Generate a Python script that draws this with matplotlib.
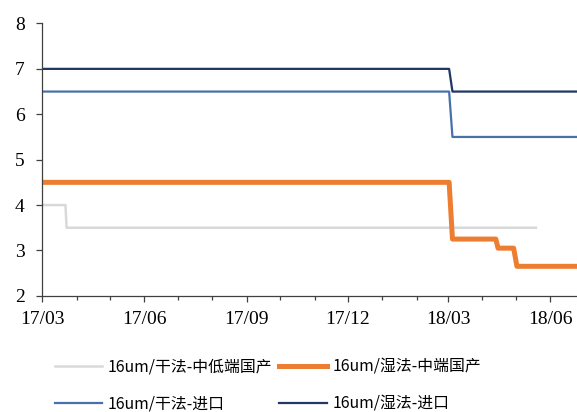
import numpy as np
import pandas as pd
import matplotlib
matplotlib.use("Agg")
import matplotlib.pyplot as plt
import matplotlib.dates as mdates

# series data (price)
dry_low_dates = ["2017-03-01", "2017-03-22", "2017-03-23", "2018-05-19"]
dry_low_vals = [4.0, 4.0, 3.5, 3.5]

wet_mid_dates = ["2017-03-01", "2018-03-02", "2018-03-05", "2018-04-13",
                 "2018-04-15", "2018-04-29", "2018-05-02", "2018-06-30"]
wet_mid_vals = [4.5, 4.5, 3.25, 3.25, 3.05, 3.05, 2.65, 2.65]

dry_imp_dates = ["2017-03-01", "2018-03-02", "2018-03-05", "2018-06-30"]
dry_imp_vals = [6.5, 6.5, 5.5, 5.5]

wet_imp_dates = ["2017-03-01", "2018-03-02", "2018-03-05", "2018-06-30"]
wet_imp_vals = [7.0, 7.0, 6.5, 6.5]

labels = ["16um/干法-中低端国产", "16um/湿法-中端国产", "16um/干法-进口", "16um/湿法-进口"]

fig = plt.figure(figsize=(5.77, 4.12), dpi=100)
ax = fig.add_axes([0.073, 0.282, 0.927, 0.661])

l1, = ax.plot(pd.to_datetime(dry_low_dates), dry_low_vals, color="#d9d9d9", lw=1.8)
l2, = ax.plot(pd.to_datetime(wet_mid_dates), wet_mid_vals, color="#ed7d31", lw=3.6)
l3, = ax.plot(pd.to_datetime(dry_imp_dates), dry_imp_vals, color="#4672a8", lw=1.6)
l4, = ax.plot(pd.to_datetime(wet_imp_dates), wet_imp_vals, color="#1f3864", lw=1.6)

ax.set_xlim(pd.Timestamp("2017-03-01"), pd.Timestamp("2018-06-25"))
ax.set_ylim(2, 8)
ax.set_yticks(np.arange(2, 9, 1))
ax.xaxis.set_major_locator(mdates.MonthLocator(bymonth=[3, 6, 9, 12]))
ax.xaxis.set_minor_locator(mdates.MonthLocator())
ax.xaxis.set_major_formatter(mdates.DateFormatter("%y/%m"))

for s in ["top", "right"]:
    ax.spines[s].set_visible(False)
for s in ["left", "bottom"]:
    ax.spines[s].set_color("#404040")
    ax.spines[s].set_linewidth(0.9)

ax.tick_params(axis="y", which="major", length=4.5, width=0.9, color="#404040",
               labelsize=14, pad=8)
ax.tick_params(axis="x", which="major", length=4, width=0.9, color="#404040",
               labelsize=14, pad=7)
ax.tick_params(axis="x", which="minor", length=3, width=0.9, color="#404040")
for lab in ax.get_xticklabels() + ax.get_yticklabels():
    lab.set_fontfamily("Liberation Serif")

fig.legend([l1, l3, l2, l4], [labels[0], labels[2], labels[1], labels[3]],
           loc="upper left", bbox_to_anchor=(0.07, 0.165), ncol=2,
           frameon=False, handlelength=3.0, columnspacing=0.45,
           labelspacing=1.25, handletextpad=0.35,
           prop={"family": ["Noto Sans CJK SC", "DejaVu Sans"], "size": 11.4})

fig.savefig("out.png", dpi=100)
